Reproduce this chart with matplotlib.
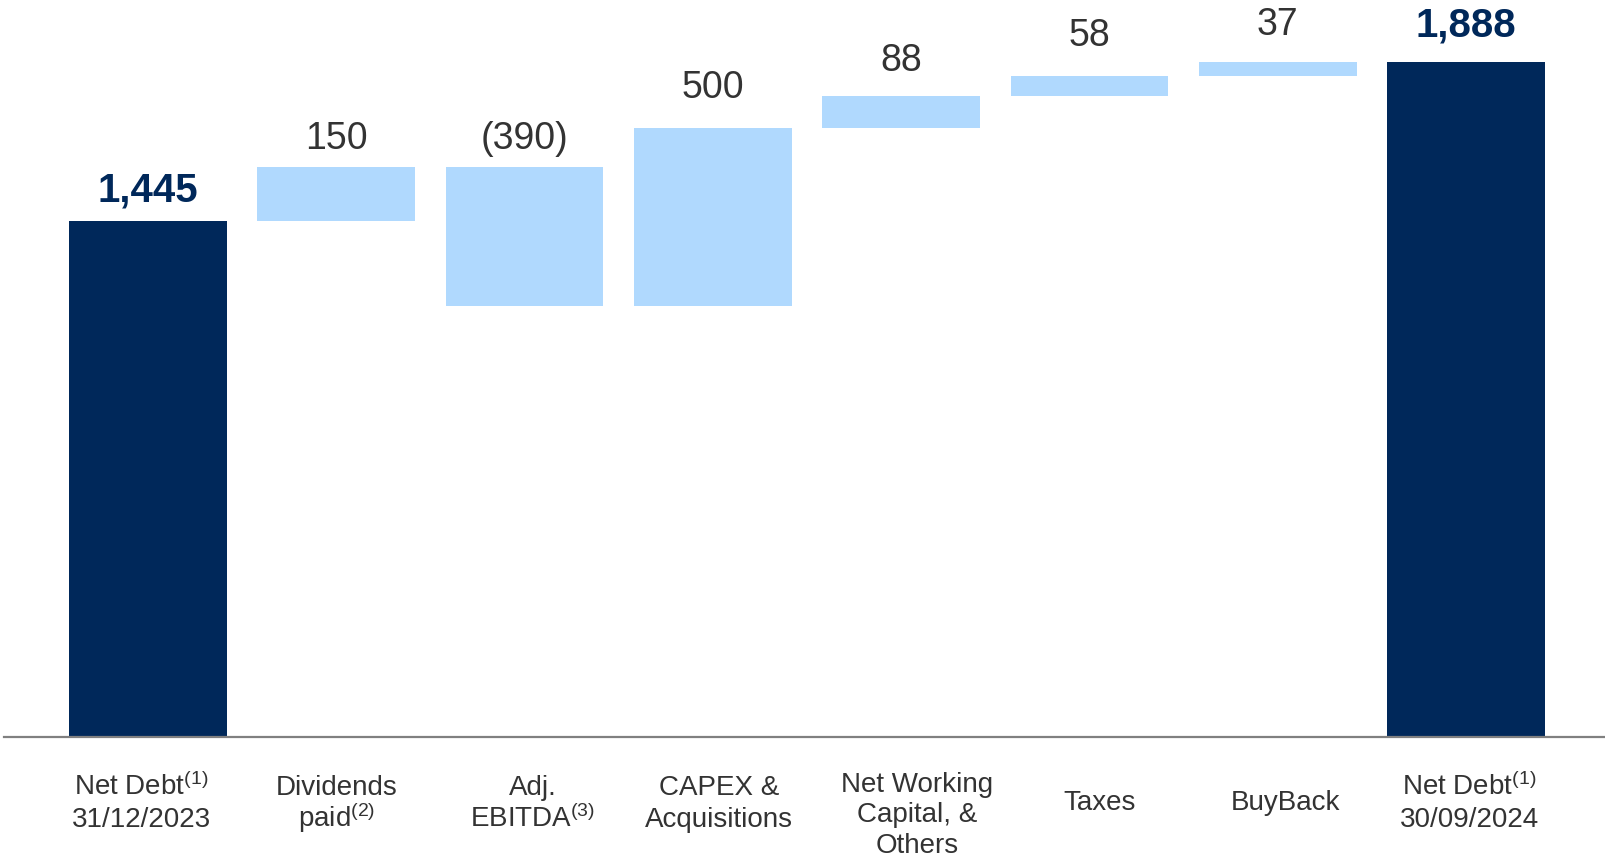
import matplotlib
matplotlib.use("Agg")
import matplotlib.pyplot as plt
import numpy as np

# ---- data -------------------------------------------------------------
categories = [
    "Net Debt$^{(1)}$\n31/12/2023",
    "Dividends\npaid$^{(2)}$",
    "Adj.\nEBITDA$^{(3)}$",
    "CAPEX &\nAcquisitions",
    "Net Working\nCapital, &\nOthers",
    "Taxes",
    "BuyBack",
    "Net Debt$^{(1)}$\n30/09/2024",
]
opening_debt = 1445
movements = [150, -390, 500, 88, 58, 37]
value_labels = ["1,445", "150", "(390)", "500", "88", "58", "37", "1,888"]

# ---- style ------------------------------------------------------------
NAVY = "#00285a"
LIGHT = "#b0d9fe"
TEXT = "#333333"
AXIS = "#808080"
FONT = ["Liberation Sans", "DejaVu Sans"]
plt.rcParams["font.family"] = FONT
plt.rcParams["mathtext.default"] = "regular"

W, H = 1605, 856
BASE_PX = 737          # baseline, pixels from top
PX_PER_UNIT = 0.3573   # vertical scale
X0_PX, STEP_PX = 148, 188.3
BAR_W = 0.837

# label gaps above bar tops (px) and horizontal nudges of category labels (px)
value_gap_px = [19, 18, 18, 30, 25, 30, 27, 26]
cat_dx_px = [-6.7, 0, 8, 6, 16, 10, 7.7, 3]

# ---- waterfall geometry ---------------------------------------------
levels = np.concatenate([[opening_debt], opening_debt + np.cumsum(movements)])
closing_debt = levels[-1]
n = len(categories)
x = np.arange(n)
bottoms = [0.0]
heights = [opening_debt]
for i, m in enumerate(movements):
    lo = min(levels[i], levels[i + 1])
    bottoms.append(lo)
    heights.append(abs(m))
bottoms.append(0.0)
heights.append(closing_debt)
tops = [b + h for b, h in zip(bottoms, heights)]
colors = [NAVY] + [LIGHT] * len(movements) + [NAVY]

# ---- figure -----------------------------------------------------------
fig = plt.figure(figsize=(W / 100, H / 100), dpi=100)
ax = fig.add_axes([4 / W, (H - BASE_PX) / H, 1 - 4 / W, BASE_PX / H])
ax.set_xlim((4 - X0_PX) / STEP_PX, (W - X0_PX) / STEP_PX)
ax.set_ylim(0, BASE_PX / PX_PER_UNIT)

ax.bar(x, heights, bottom=bottoms, width=BAR_W, color=colors, linewidth=0, zorder=2)

for s in ("top", "right", "left"):
    ax.spines[s].set_visible(False)
ax.spines["bottom"].set_color(AXIS)
ax.spines["bottom"].set_linewidth(1.6)
ax.spines["bottom"].set_zorder(3)
ax.set_xticks([])
ax.set_yticks([])

# value labels
pt = 72 / 100
for i, (lab, top) in enumerate(zip(value_labels, tops)):
    total = i in (0, n - 1)
    ax.annotate(lab, xy=(i, top), xytext=(0, value_gap_px[i] * pt),
                textcoords="offset points", ha="center", va="baseline",
                fontsize=29 if total else 27,
                fontweight="bold" if total else "normal",
                color=NAVY if total else TEXT, annotation_clip=False)

# category labels, one text per line
for i, lab in enumerate(categories):
    lines = lab.split("\n")
    if len(lines) == 1:
        first, pitch = 810.5, 32
    elif len(lines) == 2:
        first, pitch = 795, 32
    else:
        first, pitch = 792, 30.5
    for k, line in enumerate(lines):
        y_px = first + k * pitch
        ax.annotate(line, xy=(i, H - y_px), xycoords=("data", "figure pixels"),
                    xytext=(cat_dx_px[i] * pt, 0), textcoords="offset points",
                    ha="center", va="baseline", fontsize=20, color=TEXT,
                    annotation_clip=False)

fig.savefig("out.png", dpi=100)
